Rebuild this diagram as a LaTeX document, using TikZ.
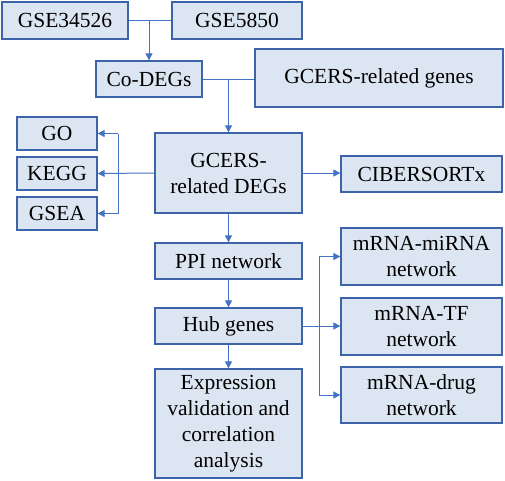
\documentclass[tikz,border=0pt]{standalone}
\usepackage{fontspec}
\setmainfont{Liberation Serif}
\newfontfamily\boxfont{Liberation Serif}
\usetikzlibrary{arrows.meta}
\definecolor{boxfill}{HTML}{DCE6F2}
\definecolor{boxline}{HTML}{3D64A8}
\definecolor{conn}{HTML}{4472C4}
\tikzset{
  bx/.style={draw=boxline, fill=boxfill, line width=1.3pt, inner sep=0pt, align=center,
    font=\boxfont\fontsize{21.5}{26}\selectfont},
  arr/.style={conn, line width=1pt, -{Triangle[length=7pt,width=7pt]}},
  ln/.style={conn, line width=1pt},
}
\begin{document}
\begin{tikzpicture}[x=1pt,y=-1pt]
\useasboundingbox (0,0) rectangle (505,480);
\node[bx, minimum width=126pt, minimum height=37pt] (g1) at (65,20.5) {GSE34526};
\node[bx, minimum width=130pt, minimum height=37pt] (g2) at (237,20.5) {GSE5850};
\node[bx, minimum width=106pt, minimum height=36pt] (co) at (149,79) {Co-DEGs};
\node[bx, minimum width=248pt, minimum height=58pt] (gg) at (379,78) {GCERS-related genes};
\node[bx, minimum width=80pt, minimum height=33pt] (go) at (57,133.5) {GO};
\node[bx, minimum width=80pt, minimum height=33pt] (kegg) at (57,173.5) {KEGG};
\node[bx, minimum width=80pt, minimum height=33pt] (gsea) at (57,213.5) {GSEA};
\node[bx, minimum width=147pt, minimum height=80pt] (deg) at (228.5,173) {GCERS-\\related DEGs};
\node[bx, minimum width=161pt, minimum height=36pt] (cib) at (421.5,174) {CIBERSORTx};
\node[bx, minimum width=147pt, minimum height=36pt] (ppi) at (228.5,261) {PPI network};
\node[bx, minimum width=147pt, minimum height=36pt] (hub) at (228.5,326) {Hub genes};
\node[bx, minimum width=147pt, minimum height=109pt] (exp) at (228.5,423.5) {Expression\\validation and\\correlation\\analysis};
\node[bx, minimum width=161pt, minimum height=57pt] (mi) at (421.5,256.5) {mRNA-miRNA\\network};
\node[bx, minimum width=161pt, minimum height=57pt] (tf) at (421.5,326.5) {mRNA-TF\\network};
\node[bx, minimum width=161pt, minimum height=56pt] (dr) at (421.5,395) {mRNA-drug\\network};
% top merge
\draw[ln] (g1.east) -- (g2.west);
\draw[arr] (g1.east -| co.north) -- (co.north);
\draw[ln] (co.east) -- (co.east -| gg.west);
\draw[arr] (co.east -| deg.north) -- (deg.north);
% left bracket
\coordinate (lb) at (118,173);
\draw[arr] (deg.west) -- (kegg.east);
\draw[ln] (lb |- go.east) -- (lb |- gsea.east);
\draw[arr] (lb |- go.east) -- (go.east);
\draw[arr] (lb |- gsea.east) -- (gsea.east);
\draw[arr] (deg.east) -- (deg.east -| cib.west);
% chain
\draw[arr] (deg.south) -- (ppi.north);
\draw[arr] (ppi.south) -- (hub.north);
\draw[arr] (hub.south) -- (exp.north);
% right bracket
\coordinate (rb) at (319,326);
\draw[arr] (hub.east) -- (hub.east -| tf.west);
\draw[ln] (rb |- mi.west) -- (rb |- dr.west);
\draw[arr] (rb |- mi.west) -- (mi.west);
\draw[arr] (rb |- dr.west) -- (dr.west);
\end{tikzpicture}
\end{document}
